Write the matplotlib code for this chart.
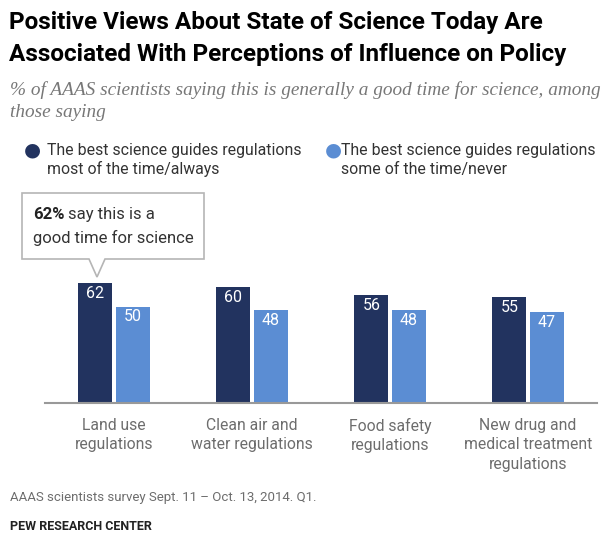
import matplotlib.pyplot as plt
import numpy as np
from matplotlib.patches import Polygon

categories = ["Land use\nregulations", "Clean air and\nwater regulations",
              "Food safety\nregulations", "New drug and\nmedical treatment\nregulations"]
most_always = [62, 60, 56, 55]
some_never = [50, 48, 48, 47]
series_names = ["The best science guides regulations\nmost of the time/always",
                "The best science guides regulations\nsome of the time/never"]

dark = "#22335f"
light = "#5b8dd3"
gray = "#6d6d6d"
W, H = 609, 535

fig = plt.figure(figsize=(W / 100, H / 100), dpi=100)
sans = "Roboto"

def fx(px):
    return px / W

def fy(py):
    return 1 - py / H

# title and subtitle
fig.text(fx(9), fy(23), "Positive Views About State of Science Today Are",
         fontsize=17.5, fontweight="bold", family=sans, va="center")
fig.text(fx(9), fy(54), "Associated With Perceptions of Influence on Policy",
         fontsize=17.5, fontweight="bold", family=sans, va="center")
fig.text(fx(10), fy(90), "% of AAAS scientists saying this is generally a good time for science, among",
         fontsize=13.9, style="italic", family="Liberation Serif", color="#777777", va="center")
fig.text(fx(10), fy(112), "those saying",
         fontsize=13.9, style="italic", family="Liberation Serif", color="#777777", va="center")

# legend
fig.text(fx(32), fy(150), "\u25cf", fontsize=14, color=dark, ha="center", va="center")
fig.text(fx(47), fy(160), series_names[0], fontsize=11.4, family=sans,
         color="#333333", va="center", linespacing=1.3)
fig.text(fx(333), fy(150), "\u25cf", fontsize=14, color=light, ha="center", va="center")
fig.text(fx(341), fy(160), series_names[1], fontsize=11.4, family=sans,
         color="#333333", va="center", linespacing=1.3)

# bars
ax = fig.add_axes([fx(45), fy(403), fx(597) - fx(45), 135 / H])
x = np.arange(len(categories))
bw = 0.245
off = 0.135
b1 = ax.bar(x - off, most_always, bw, color=dark)
b2 = ax.bar(x + off, some_never, bw, color=light)
for rect, v in zip(b1, most_always):
    ax.text(rect.get_x() + rect.get_width() / 2, v - 1.5, str(v), ha="center", va="top",
            color="white", fontsize=11.5, family=sans)
for rect, v in zip(b2, some_never):
    ax.text(rect.get_x() + rect.get_width() / 2, v - 1.5, str(v), ha="center", va="top",
            color="white", fontsize=11.5, family=sans)
ax.set_xlim(-0.5, len(categories) - 0.5)
ax.set_ylim(0, 70)
ax.set_yticks([])
ax.set_xticks(x)
ax.set_xticklabels(categories, fontsize=11.3, family=sans, color=gray, linespacing=1.35,
                   va="top")
ax.tick_params(axis="x", length=0, pad=11)
for s in ["top", "left", "right"]:
    ax.spines[s].set_visible(False)
ax.spines["bottom"].set_color("#999999")
ax.spines["bottom"].set_linewidth(1.5)

# callout box
pts = [(22, 193), (204, 193), (204, 259), (105, 259), (97, 277), (89, 259), (22, 259)]
callout = Polygon([(fx(px), fy(py)) for px, py in pts], closed=True, transform=fig.transFigure,
                  facecolor="white", edgecolor="#b5b5b5", linewidth=1.2)
fig.patches.append(callout)
bold_part = fig.text(fx(33), fy(215), "62%", fontsize=12, family=sans, fontweight="bold",
                     color="#222222", va="center")
fig.canvas.draw()
ext = bold_part.get_window_extent()
fig.text(ext.x1 / W + fx(4), fy(215), "say this is a", fontsize=12, family=sans,
         color="#333333", va="center")
fig.text(fx(33), fy(238), "good time for science", fontsize=12, family=sans,
         color="#333333", va="center")

# footer
fig.text(fx(10), fy(497), "AAAS scientists survey Sept. 11 \u2013 Oct. 13, 2014. Q1.",
         fontsize=9.5, family=sans, color=gray, va="center")
fig.text(fx(10), fy(527), "PEW RESEARCH CENTER", fontsize=9, fontweight="bold",
         family=sans, color="#222222", va="center")

fig.savefig("out.png", dpi=100)
